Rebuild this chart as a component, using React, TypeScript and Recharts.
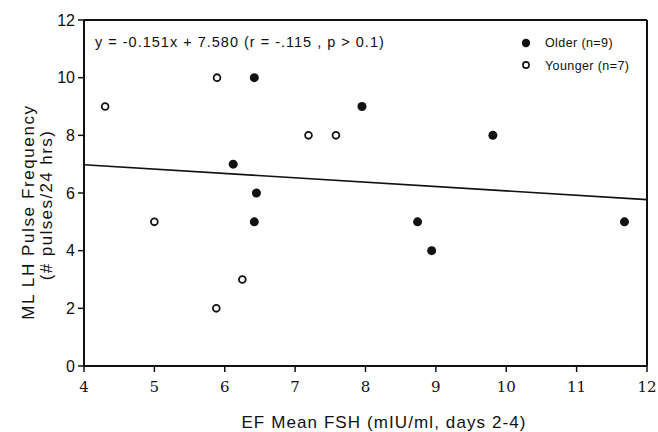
import React from 'react'
import {
  ScatterChart, Scatter, XAxis, YAxis, ReferenceLine,
} from 'recharts'

// EF mean FSH (x) vs ML LH pulse frequency (y)
const olderX = [6.42, 7.95, 6.12, 6.45, 9.81, 6.42, 8.74, 8.94, 11.68]
const olderY = [10, 9, 7, 6, 8, 5, 5, 4, 5]
const youngerX = [4.3, 5.89, 7.19, 7.58, 5.0, 6.25, 5.88]
const youngerY = [9, 10, 8, 8, 5, 3, 2]

// fitted line end points
const fitX = [4, 12]
const fitY = [6.98, 5.77]

const xTicks = [4, 5, 6, 7, 8, 9, 10, 11, 12]
const yTicks = [0, 2, 4, 6, 8, 10, 12]

const older = olderX.map((x, i) => ({ x, y: olderY[i] }))
const younger = youngerX.map((x, i) => ({ x, y: youngerY[i] }))

const INK = '#111'
const SANS = 'Liberation Sans, Arial, sans-serif'
const SERIF = 'DejaVu Serif, serif'

const FilledDot = (p: any) => <circle cx={p.cx} cy={p.cy} r={4.5} fill={INK} />
const OpenDot = (p: any) => <circle cx={p.cx} cy={p.cy} r={3.4} fill="#fff" stroke={INK} strokeWidth={1.8} />

function renderXTick(p: any) {
  return (
    <text x={p.x} y={p.y} dy={17} textAnchor="middle" fill={INK} fontFamily={SERIF} fontSize={15}>
      {p.payload.value}
    </text>
  )
}

export default function App() {
  return (
    <div style={{ position: 'absolute', left: 0, top: 0, background: '#fff' }}>
      <ScatterChart width={658} height={432} margin={{ top: 20, right: 11, left: 24, bottom: 36 }}>
        <XAxis
          type="number" dataKey="x" domain={[4, 12]} ticks={xTicks} interval={0}
          axisLine={{ stroke: INK, strokeWidth: 2 }} tickLine={{ stroke: INK, strokeWidth: 1.5 }}
          tickSize={6} tickMargin={3} height={30}
          tick={renderXTick}
        />
        <YAxis
          type="number" dataKey="y" domain={[0, 12]} ticks={yTicks} interval={0}
          axisLine={{ stroke: INK, strokeWidth: 2 }} tickLine={{ stroke: INK, strokeWidth: 1.5 }}
          tickSize={6} tickMargin={3} width={60}
          tick={{ fill: INK, fontSize: 16, fontFamily: SANS }}
        />
        <ReferenceLine y={12} stroke={INK} strokeWidth={2} />
        <ReferenceLine x={12} stroke={INK} strokeWidth={2} />
        <ReferenceLine
          segment={[{ x: fitX[0], y: fitY[0] }, { x: fitX[1], y: fitY[1] }]}
          stroke={INK} strokeWidth={1.6}
        />
        <Scatter name="Older (n=9)" data={older} shape={FilledDot} isAnimationActive={false} />
        <Scatter name="Younger (n=7)" data={younger} shape={OpenDot} isAnimationActive={false} />
        <g fontFamily={SANS} fontSize={12.5} fill={INK} letterSpacing={0.4}>
          <circle cx={526} cy={43} r={4.2} fill={INK} />
          <text x={545} y={47}>Older (n=9)</text>
          <circle cx={526} cy={65} r={3.1} fill="#fff" stroke={INK} strokeWidth={1.6} />
          <text x={545} y={69.5}>Younger (n=7)</text>
        </g>
        <text x={95} y={46.5} fontFamily={SANS} fontSize={14.5} letterSpacing={1} fill={INK}>
          y = -0.151x + 7.580 (r = -.115 , p &gt; 0.1)
        </text>
        <text x={384} y={428} textAnchor="middle" fontFamily={SANS} fontSize={17} letterSpacing={1.1} fill={INK}>
          EF Mean FSH (mIU/ml, days 2-4)
        </text>
        <text transform="translate(34,212) rotate(-90)" textAnchor="middle" fontFamily={SANS} fontSize={17} letterSpacing={1.6} fill={INK}>
          ML LH Pulse Frequency
        </text>
        <text transform="translate(52,205) rotate(-90)" textAnchor="middle" fontFamily={SANS} fontSize={17} letterSpacing={1.4} fill={INK}>
          (# pulses/24 hrs)
        </text>
      </ScatterChart>
    </div>
  )
}
